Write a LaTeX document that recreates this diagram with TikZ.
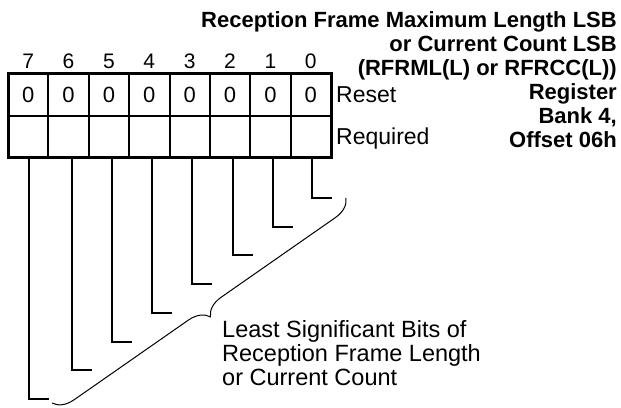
\documentclass[tikz,border=0pt]{standalone}
\usepackage{fontspec}
\setmainfont{Liberation Sans}
\usetikzlibrary{decorations.pathreplacing,calc}
\begin{document}
\begin{tikzpicture}[x=1pt,y=-1pt,
  cell/.style={minimum width=40.375pt, minimum height=42pt, inner sep=0pt, outer sep=0pt, draw, line width=2pt, font=\fontsize{22}{24}\selectfont},
  bitnum/.style={anchor=base, inner sep=0pt, font=\fontsize{21}{24}\selectfont},
  leader/.style={line width=2pt},
  rowlbl/.style={anchor=base west, inner sep=0pt, font=\fontsize{23}{24}\selectfont},
  note/.style={anchor=base west, inner sep=0pt, align=left, font=\fontsize{23.5}{24}\selectfont},
  titletext/.style={anchor=base east, inner sep=0pt, align=right, font=\bfseries\fontsize{22}{24}\selectfont},
  bracestyle/.style={decorate, decoration={brace, amplitude=20pt}, line width=1pt}]
\useasboundingbox[fill=white] (0,0) rectangle (621,407);
\foreach \i in {0,...,7}{
  \pgfmathsetmacro\cx{8+(7-\i)*40.375+20.1875}
  \node[cell] (a\i) at (\cx,94.5) {0};
  \node[cell] (r\i) at (\cx,136.5) {};
  \node[bitnum] (b\i) at (\cx,68) {\i};
}
\draw[line width=3pt] (a7.north west) rectangle (r0.south east);
\foreach \i/\dx in {0/1.2,1/2.5,2/3,3/2.3,4/2.7,5/3,6/3.4,7/0.8}{
  \pgfmathsetmacro\vx{8+(7-\i)*40.375+20.1875+\dx+20}
  \pgfmathsetmacro\vy{198+\i*28.7}
  \coordinate (e\i) at (\vx,\vy);
  \draw[leader] ([xshift=\dx pt]r\i.south) |- (e\i);
}
\coordinate (bt) at (346,198);
\coordinate (bb) at (52,403);
\draw[bracestyle] (bt) -- (bb);
\node[note] (lsb) at (222,385) {Least Significant Bits of\\Reception Frame Length\\or Current Count};
\node[rowlbl] (reset) at (336,102.7) {Reset};
\node[rowlbl] (req) at (336,144.7) {Required};
\node[titletext] (title) at (617,147) {Reception Frame Maximum Length LSB\\or Current Count LSB\\(RFRML(L) or RFRCC(L))\\Register\\Bank 4,\\Offset 06h};
\end{tikzpicture}
\end{document}
